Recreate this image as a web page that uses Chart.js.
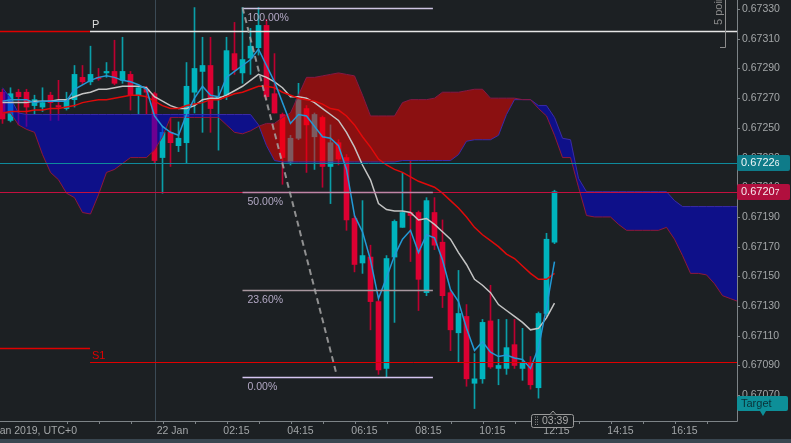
<!DOCTYPE html>
<html>
<head>
<meta charset="utf-8">
<script src="https://cdn.jsdelivr.net/npm/chart.js@4.4.0/dist/chart.umd.min.js"></script>
<style>
html, body { margin: 0; padding: 0; background: #1c2023; overflow: hidden; }
#wrap { position: relative; width: 791px; height: 443px; }
</style>
</head>
<body>
<div id="wrap"><canvas id="chart" width="791" height="443"></canvas></div>
<script>
// M15 candles, 21 Jan 19:15 -> 22 Jan 12:30 (index 0..69)
const open = [
  0.67274,0.67255,0.67274,0.67274,0.67265,0.67264,0.67272,0.67265,0.67263,0.67269,
  0.67284,0.67281,0.67284,0.67287,0.67288,0.67282,0.67286,0.67272,0.67276,0.67273,
  0.67230,0.67247,0.67238,0.67240,0.67274,0.67288,0.67292,0.67269,0.67272,0.67300,
  0.67287,0.67297,0.67304,0.67319,0.67273,0.67259,0.67227,0.67243,0.67263,0.67244,
  0.67257,0.67224,0.67240,0.67230,0.67189,0.67159,0.67163,0.67133,0.67088,0.67163,
  0.67183,0.67193,0.67193,0.67139,0.67193,0.67173,0.67139,0.67112,0.67123,0.67078,
  0.67081,0.67120,0.67088,0.67088,0.67104,0.67088,0.67092,0.67075,0.67125,0.67173];
const high = [
  0.67276,0.67277,0.67276,0.67276,0.67272,0.67277,0.67274,0.67282,0.67274,0.67292,
  0.67292,0.67305,0.67290,0.67294,0.67309,0.67311,0.67288,0.67278,0.67278,0.67274,
  0.67251,0.67257,0.67254,0.67294,0.67331,0.67311,0.67311,0.67278,0.67311,0.67321,
  0.67331,0.67317,0.67331,0.67323,0.67300,0.67260,0.67245,0.67280,0.67265,0.67260,
  0.67258,0.67252,0.67242,0.67232,0.67191,0.67201,0.67171,0.67134,0.67164,0.67188,
  0.67220,0.67228,0.67194,0.67203,0.67203,0.67188,0.67141,0.67154,0.67131,0.67098,
  0.67121,0.67144,0.67121,0.67121,0.67121,0.67115,0.67096,0.67126,0.67179,0.67208];
const low = [
  0.67253,0.67254,0.67252,0.67251,0.67259,0.67261,0.67255,0.67255,0.67262,0.67264,
  0.67279,0.67279,0.67282,0.67284,0.67279,0.67280,0.67262,0.67259,0.67259,0.67226,
  0.67206,0.67224,0.67234,0.67226,0.67260,0.67247,0.67247,0.67235,0.67269,0.67286,
  0.67280,0.67286,0.67299,0.67269,0.67260,0.67212,0.67225,0.67242,0.67220,0.67222,
  0.67210,0.67199,0.67225,0.67181,0.67153,0.67152,0.67114,0.67084,0.67082,0.67119,
  0.67183,0.67160,0.67127,0.67137,0.67168,0.67129,0.67100,0.67092,0.67076,0.67061,
  0.67078,0.67088,0.67077,0.67084,0.67088,0.67080,0.67074,0.67068,0.67123,0.67172];
const close = [
  0.67256,0.67273,0.67271,0.67264,0.67269,0.67267,0.67267,0.67264,0.67269,0.67286,
  0.67281,0.67286,0.67283,0.67288,0.67280,0.67288,0.67272,0.67277,0.67274,0.67228,
  0.67247,0.67240,0.67243,0.67278,0.67290,0.67292,0.67263,0.67271,0.67302,0.67289,
  0.67296,0.67305,0.67319,0.67271,0.67260,0.67230,0.67243,0.67269,0.67252,0.67259,
  0.67224,0.67240,0.67229,0.67188,0.67158,0.67164,0.67133,0.67087,0.67162,0.67187,
  0.67193,0.67191,0.67148,0.67201,0.67171,0.67137,0.67114,0.67125,0.67081,0.67081,
  0.67119,0.67089,0.67090,0.67102,0.67090,0.67092,0.67077,0.67125,0.67175,0.67207];

// moving averages
const maFast = [
  0.67268,0.67269,0.67269,0.67269,0.67267,0.67268,0.67268,0.67268,0.67268,0.67276,
  0.67279,0.67282,0.67284,0.67285,0.67284,0.67282,0.67281,0.67279,0.67276,0.67258,
  0.67251,0.67247,0.67245,0.67259,0.67270,0.67278,0.67272,0.67271,0.67284,0.67288,
  0.67292,0.67296,0.67303,0.67292,0.67281,0.67267,0.67253,0.67259,0.67258,0.67251,
  0.67244,0.67243,0.67238,0.67222,0.67191,0.67180,0.67161,0.67135,0.67149,0.67164,
  0.67175,0.67181,0.67166,0.67178,0.67176,0.67161,0.67141,0.67133,0.67115,0.67100,
  0.67106,0.67099,0.67096,0.67097,0.67095,0.67094,0.67088,0.67102,0.67129,0.67160];
const maMid = [
  0.67267,0.67267,0.67267,0.67267,0.67268,0.67268,0.67268,0.67269,0.67269,0.67271,
  0.67273,0.67274,0.67276,0.67276,0.67277,0.67278,0.67278,0.67278,0.67277,0.67271,
  0.67268,0.67265,0.67263,0.67263,0.67265,0.67269,0.67270,0.67270,0.67272,0.67275,
  0.67278,0.67282,0.67286,0.67284,0.67281,0.67277,0.67271,0.67271,0.67270,0.67267,
  0.67263,0.67259,0.67255,0.67247,0.67237,0.67225,0.67215,0.67199,0.67195,0.67194,
  0.67194,0.67193,0.67188,0.67189,0.67185,0.67180,0.67175,0.67166,0.67158,0.67148,
  0.67144,0.67139,0.67131,0.67127,0.67123,0.67119,0.67114,0.67115,0.67122,0.67132];
const maSlow = [
  0.67260,0.67261,0.67261,0.67261,0.67262,0.67262,0.67263,0.67263,0.67264,0.67265,
  0.67267,0.67268,0.67269,0.67269,0.67270,0.67271,0.67272,0.67272,0.67271,0.67268,
  0.67265,0.67263,0.67263,0.67265,0.67266,0.67267,0.67269,0.67269,0.67271,0.67273,
  0.67274,0.67276,0.67278,0.67278,0.67277,0.67274,0.67272,0.67270,0.67269,0.67268,
  0.67266,0.67263,0.67262,0.67258,0.67252,0.67244,0.67237,0.67229,0.67225,0.67222,
  0.67220,0.67217,0.67214,0.67212,0.67210,0.67206,0.67201,0.67196,0.67190,0.67183,
  0.67178,0.67174,0.67170,0.67165,0.67162,0.67157,0.67152,0.67148,0.67148,0.67152];

// ichimoku cloud, shifted forward (index 0..92)
const spanA = [
  0.67277,0.67270,0.67260,0.67259,0.67259,0.67259,0.67259,0.67259,0.67259,0.67259,
  0.67259,0.67259,0.67259,0.67259,0.67259,0.67259,0.67259,0.67259,0.67259,0.67259,
  0.67259,0.67259,0.67259,0.67259,0.67259,0.67259,0.67259,0.67259,0.67259,0.67259,
  0.67259,0.67259,0.67252,0.67238,0.67228,0.67227,0.67227,0.67227,0.67227,0.67227,
  0.67227,0.67227,0.67227,0.67227,0.67227,0.67227,0.67227,0.67227,0.67227,0.67227,
  0.67228,0.67228,0.67228,0.67228,0.67228,0.67228,0.67228,0.67232,0.67241,0.67242,
  0.67242,0.67242,0.67245,0.67259,0.67269,0.67269,0.67269,0.67265,0.67265,0.67257,
  0.67243,0.67242,0.67216,0.67207,0.67207,0.67207,0.67207,0.67207,0.67207,0.67207,
  0.67207,0.67207,0.67207,0.67207,0.67201,0.67197,0.67197,0.67197,0.67197,0.67197,
  0.67197,0.67197,0.67197];
const spanB = [
  0.67260,0.67260,0.67252,0.67249,0.67247,0.67232,0.67220,0.67215,0.67206,0.67203,
  0.67193,0.67192,0.67205,0.67220,0.67222,0.67226,0.67230,0.67230,0.67230,0.67235,
  0.67244,0.67257,0.67257,0.67257,0.67257,0.67257,0.67257,0.67257,0.67252,0.67247,
  0.67246,0.67248,0.67251,0.67253,0.67253,0.67257,0.67260,0.67272,0.67284,0.67284,
  0.67285,0.67286,0.67287,0.67286,0.67285,0.67272,0.67258,0.67258,0.67258,0.67258,
  0.67267,0.67269,0.67269,0.67269,0.67270,0.67274,0.67274,0.67274,0.67275,0.67276,
  0.67276,0.67270,0.67270,0.67270,0.67270,0.67269,0.67269,0.67263,0.67258,0.67245,
  0.67230,0.67230,0.67210,0.67191,0.67190,0.67190,0.67190,0.67185,0.67181,0.67181,
  0.67181,0.67181,0.67181,0.67183,0.67175,0.67164,0.67152,0.67152,0.67151,0.67145,
  0.67137,0.67135,0.67133];

// axes
const yTicks = [0.67330,0.67310,0.67290,0.67270,0.67250,0.67230,0.67210,
                0.67190,0.67170,0.67150,0.67130,0.67110,0.67090,0.67070];
const xTickIdx = [8,12,16,20,24,28,32,36,40,44,48,52,56,60,64,68,72,76,80,84,88];
const xLabelIdx = [20,28,36,44,52,60,68,76,84];
const xLabelText = ['22 Jan','02:15','04:15','06:15','08:15','10:15','12:15','14:15','16:15'];
const xFirstLabel = '21 Jan 2019, UTC+0';
const daySepIdx = 19;

// drawings
const pivotP = [0.67315, 0.67315];
const pivotS1 = [0.67102, 0.67092];
const pivotSwitchIdx = 10.94;
const tealPrice = 0.67226, bidPrice = 0.67207, targetPrice = 0.67065;
const fibIdx = [30.0, 53.8];
const fibPrice = [0.67331, 0.67082];
const fibLevels = [1, 0.5, 0.236, 0];
const fibNames = ['100.00%', '50.00%', '23.60%', '0.00%'];
const fibColors = ['#cdc4e2', '#c084a6', '#a8979f', '#d6c6f2'];
const trendIdx = [30.0, 41.8];
const trendPrice = [0.67331, 0.67083];
const timerText = '03:39';

const BG = '#1c2023';
const UP = '#00b4be', DOWN = '#dc0032';
const FONT = '"Liberation Sans", Arial, sans-serif';
const X_MIN = -0.3125, X_MAX = X_MIN + 737 / 8;
const Y_MIN = 0.670526, Y_MAX = 0.673361;

const idx = close.map((_, i) => i);
const pts = arr => arr.map((v, i) => ({ x: i, y: v }));

function hseg(c, xs, ys, i0, i1, p, color, w, dash) {
  const py = Math.round(ys.getPixelForValue(p)) + 0.5;
  c.strokeStyle = color; c.lineWidth = w; c.setLineDash(dash || []);
  c.beginPath();
  c.moveTo(xs.getPixelForValue(i0), py);
  c.lineTo(xs.getPixelForValue(i1), py);
  c.stroke();
}

const overlay = {
  id: 'overlay',
  beforeDraw(chart) {
    const c = chart.ctx;
    c.save();
    c.fillStyle = BG; c.fillRect(0, 0, chart.width, chart.height);
    c.fillStyle = '#394650'; c.fillRect(0, 439, chart.width, 4);
    c.restore();
  },
  beforeDatasetsDraw(chart) {
    const { ctx: c, scales: { x } } = chart;
    const sx = Math.round(x.getPixelForValue(daySepIdx)) + 0.5;
    c.save();
    c.strokeStyle = '#3b4a55'; c.lineWidth = 1;
    c.beginPath(); c.moveTo(sx, 0); c.lineTo(sx, 421); c.stroke();
    c.restore();
  },
  afterDatasetsDraw(chart) {
    const { ctx: c, chartArea: a, scales: { x, y } } = chart;
    c.save();
    c.beginPath(); c.rect(a.left, a.top, a.right - a.left, a.bottom - a.top); c.clip();

    // pivots
    hseg(c, x, y, X_MIN, pivotSwitchIdx, pivotP[0], '#e00000', 1.5);
    hseg(c, x, y, pivotSwitchIdx, X_MAX, pivotP[1], '#e6e6e6', 1.5);
    hseg(c, x, y, X_MIN, pivotSwitchIdx, pivotS1[0], '#e00000', 1.5);
    hseg(c, x, y, pivotSwitchIdx, X_MAX, pivotS1[1], '#e00000', 1);
    c.setLineDash([]);
    c.font = '11px ' + FONT; c.textBaseline = 'alphabetic'; c.textAlign = 'left';
    const px = x.getPixelForValue(pivotSwitchIdx) + 2;
    c.fillStyle = '#dcdcdc'; c.fillText('P', px, y.getPixelForValue(pivotP[1]) - 3);
    c.fillStyle = '#e00000'; c.fillText('S1', px, y.getPixelForValue(pivotS1[1]) - 3);

    // price lines
    hseg(c, x, y, X_MIN, X_MAX, tealPrice, '#0e8a9c', 1);
    hseg(c, x, y, X_MIN, X_MAX, bidPrice, '#c3103f', 1);

    // fibonacci retracement
    fibLevels.forEach((lv, j) => {
      const p = fibPrice[1] + lv * (fibPrice[0] - fibPrice[1]);
      hseg(c, x, y, fibIdx[0], fibIdx[1], p, fibColors[j], 1.5);
      c.setLineDash([]);
      c.font = '10.5px ' + FONT; c.fillStyle = '#b2a8c4'; c.textAlign = 'left';
      c.fillText(fibNames[j], x.getPixelForValue(fibIdx[0]) + 5, y.getPixelForValue(p) + 13);
    });

    // dashed trend line
    c.strokeStyle = 'rgba(165,165,165,0.85)'; c.lineWidth = 2; c.setLineDash([6, 4]);
    c.beginPath();
    c.moveTo(x.getPixelForValue(trendIdx[0]), y.getPixelForValue(trendPrice[0]));
    c.lineTo(x.getPixelForValue(trendIdx[1]), y.getPixelForValue(trendPrice[1]));
    c.stroke();
    c.setLineDash([]);

    // "5 points" ruler
    c.strokeStyle = '#8c8c8c'; c.lineWidth = 1;
    c.beginPath(); c.moveTo(725.5, 0); c.lineTo(725.5, 47.5); c.lineTo(720, 47.5); c.stroke();
    c.save();
    c.translate(722, 25); c.rotate(-Math.PI / 2);
    c.font = '11px ' + FONT; c.fillStyle = '#8c8c8c'; c.textAlign = 'left';
    c.fillText('5 points', 0, 0);
    c.restore();
    c.restore();
  },
  afterDraw(chart) {
    const { ctx: c, scales: { x, y } } = chart;
    c.save();
    // axis lines
    c.strokeStyle = '#7d8387'; c.lineWidth = 1;
    c.beginPath(); c.moveTo(737.5, 0); c.lineTo(737.5, 421.5); c.lineTo(0, 421.5); c.stroke();

    // y ticks + labels
    c.font = '10.5px ' + FONT; c.fillStyle = '#a3a6a8'; c.textBaseline = 'middle'; c.textAlign = 'left';
    yTicks.forEach(v => {
      const py = Math.round(y.getPixelForValue(v)) + 0.5;
      c.beginPath(); c.moveTo(737, py); c.lineTo(740, py); c.stroke();
      c.fillText(v.toFixed(5), 742, py);
    });

    // x ticks + labels
    xTickIdx.forEach(i => {
      const px = Math.round(x.getPixelForValue(i)) + 0.5;
      c.beginPath(); c.moveTo(px, 421); c.lineTo(px, 424); c.stroke();
    });
    c.textBaseline = 'middle'; c.textAlign = 'center';
    xLabelIdx.forEach((i, j) => {
      c.fillText(xLabelText[j], x.getPixelForValue(i) + 10, 431.5);
    });
    c.textAlign = 'right';
    c.fillText(xFirstLabel, 77, 431.5);

    // price tags on the right
    const tag = (p, bg, fg, text, small) => {
      const py = y.getPixelForValue(p);
      c.fillStyle = bg;
      c.beginPath(); c.roundRect(737, Math.round(py) - 8, 53, 16, 2); c.fill();
      c.fillStyle = fg; c.textAlign = 'left'; c.textBaseline = 'middle';
      c.font = '11px ' + FONT;
      c.fillText(text, 741, Math.round(py));
      if (small) {
        const w = c.measureText(text).width;
        c.font = '8.5px ' + FONT;
        c.fillText(small, 741 + w, Math.round(py) + 1);
      }
    };
    const s1 = tealPrice.toFixed(5), s2 = bidPrice.toFixed(5);
    tag(tealPrice, '#0e7b89', '#eef6f7', s1.slice(0, -1), s1.slice(-1));
    tag(bidPrice, '#b10f3e', '#f6e9ed', s2.slice(0, -1), s2.slice(-1));

    // Target tag
    const ty = Math.round(y.getPixelForValue(targetPrice));
    c.fillStyle = '#0d8f98';
    c.beginPath(); c.roundRect(737, ty - 7, 51, 15, 2); c.fill();
    c.beginPath(); c.moveTo(760, ty + 8); c.lineTo(766, ty + 8); c.lineTo(763, ty + 13); c.fill();
    c.fillStyle = '#0a3238'; c.font = '11px ' + FONT; c.textAlign = 'left'; c.textBaseline = 'middle';
    c.fillText('Target', 741, ty + 1);

    // candle timer
    const cx = Math.round(x.getPixelForValue(close.length - 1)) - 2;
    c.fillStyle = BG; c.strokeStyle = '#9a9a9a'; c.lineWidth = 1;
    c.beginPath(); c.roundRect(cx - 21.5, 414.5, 42, 13, 2); c.fill(); c.stroke();
    c.beginPath(); c.moveTo(cx - 3, 414.5); c.lineTo(cx, 411); c.lineTo(cx + 3, 414.5); c.fill(); c.stroke();
    c.fillStyle = '#8c8c8c';
    for (let r = 0; r < 4; r++) { c.fillRect(cx - 18, 416.5 + r * 2.5, 1, 1); c.fillRect(cx - 16, 416.5 + r * 2.5, 1, 1); }
    c.fillStyle = '#a8a8a8'; c.font = '10.5px ' + FONT; c.textAlign = 'left';
    c.fillText(timerText, cx - 11, 421.5);
    c.restore();
  }
};

new Chart(document.getElementById('chart'), {
  type: 'line',
  data: {
    datasets: [
      { type: 'line', label: 'maFast', data: pts(maFast), borderColor: '#2299d6', borderWidth: 1.5,
        pointRadius: 0, fill: false, order: 1 },
      { type: 'line', label: 'maSlow', data: pts(maSlow), borderColor: '#e10a0a', borderWidth: 1.5,
        pointRadius: 0, fill: false, order: 2 },
      { type: 'line', label: 'maMid', data: pts(maMid), borderColor: '#c4c4c4', borderWidth: 1.5,
        pointRadius: 0, fill: false, order: 3 },
      { type: 'line', label: 'spanA', data: pts(spanA), borderColor: '#3a2aa8', borderWidth: 1,
        pointRadius: 0, order: 5,
        fill: { target: '+1', above: 'rgba(0,0,240,0.5)', below: 'rgba(250,0,0,0.5)' } },
      { type: 'line', label: 'spanB', data: pts(spanB), borderColor: '#8a1840', borderWidth: 1,
        pointRadius: 0, fill: false, order: 4 },
      { type: 'bar', label: 'bodies', data: idx.map(i => ({ x: i, y: [open[i], close[i]] })),
        backgroundColor: ctx => close[ctx.dataIndex] >= open[ctx.dataIndex] ? UP : DOWN,
        barThickness: 5, minBarLength: 1, grouped: false, borderWidth: 0, order: 9 },
      { type: 'bar', label: 'wicks', data: idx.map(i => ({ x: i, y: [low[i], high[i]] })),
        backgroundColor: ctx => close[ctx.dataIndex] >= open[ctx.dataIndex] ? '#0a9ea8' : '#bd0030',
        barThickness: 1, grouped: false, borderWidth: 0, order: 10 }
    ]
  },
  options: {
    responsive: false,
    animation: false,
    devicePixelRatio: 1,
    events: [],
    layout: { padding: { left: 0, top: 0, right: 54, bottom: 22 } },
    plugins: { legend: { display: false }, tooltip: { enabled: false } },
    scales: {
      x: { type: 'linear', display: false, min: X_MIN, max: X_MAX, offset: false },
      y: { type: 'linear', display: false, min: Y_MIN, max: Y_MAX }
    }
  },
  plugins: [overlay]
});
</script>
</body>
</html>
